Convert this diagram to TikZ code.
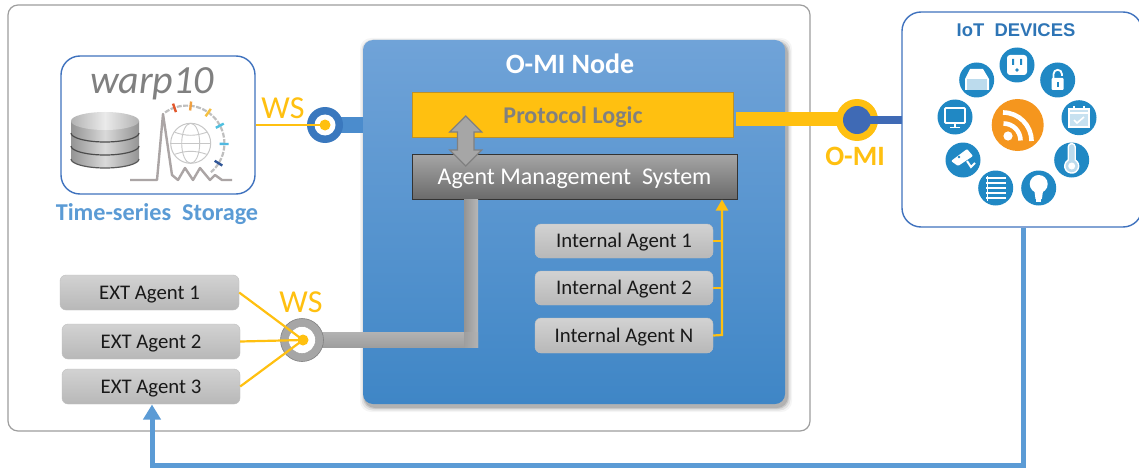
\documentclass[tikz,border=0pt]{standalone}
\usepackage{fontspec}
\setmainfont{Carlito}
\newfontfamily\iotfont{Liberation Sans}
\usetikzlibrary{arrows.meta}
\definecolor{ylw}{HTML}{FFC010}
\definecolor{iotblue}{HTML}{2088C4}
\definecolor{txtblue}{HTML}{5B9BD5}
\definecolor{boxblue}{HTML}{3F72BE}
\definecolor{pipegray}{HTML}{A6A6A6}
\definecolor{chipB}{HTML}{B8B8B8}
\definecolor{chipT}{HTML}{D2D2D2}
\definecolor{nodeT}{HTML}{70A3D8}
\definecolor{nodeB}{HTML}{3F86C6}
\definecolor{omiblue}{HTML}{3F6AB5}
\definecolor{plborder}{HTML}{BE9128}
\definecolor{spike}{HTML}{ABA5A5}
\definecolor{stub}{HTML}{4B8CCD}
\definecolor{ringblue}{HTML}{3A78BE}
\definecolor{iottxt}{HTML}{2E75B6}
\definecolor{rssor}{HTML}{F5961E}
\tikzset{
  x=1pt,y=-1pt,
  chip/.style={draw=black!25,rounded corners=6pt,top color=chipT,bottom color=chipB,inner sep=0pt,font=\fontsize{20.8}{22}\selectfont,text=black!90,text height=13pt,text depth=0pt},
  panel/.style={draw=boxblue,line width=1.4pt,fill=white,rounded corners=19pt,inner sep=0pt},
  ylink/.style={draw=ylw,line width=2.2pt},
  icon/.style={circle,fill=iotblue,minimum size=35pt,inner sep=0pt}
}
\begin{document}
\begin{tikzpicture}
\useasboundingbox (0,0) rectangle (1139,468);
\fill[white] (0,0) rectangle (1139,468);
% outer frame
\node[draw=black!38,line width=1.2pt,rounded corners=10pt,minimum width=802pt,minimum height=426pt,inner sep=0pt] (outer) at (409,218) {};
% O-MI node shadow + body
\foreach \d/\o in {5/.04,3.5/.07,2/.1,1/.12}{
  \fill[black,opacity=\o,rounded corners=11pt] (363-\d+2,40-\d+3) rectangle (785+\d+2,404+\d+3);
}
\node[rounded corners=10pt,top color=nodeT,bottom color=nodeB,minimum width=422pt,minimum height=364pt,inner sep=0pt] (omi) at (574,222) {};
\node[font=\bfseries\fontsize{28}{30}\selectfont,text=white] (omit) at (570,64) {O-MI Node};
% right link
\fill[ylw] (736,112) rectangle (842,126);
\coordinate (iotL) at (902,120);
\node[circle,fill=ylw,minimum size=42pt,inner sep=0pt] (omiO) at (857,120) {};
\node[circle,fill=omiblue,minimum size=28pt,inner sep=0pt] (omiI) at (857,120) {};
\draw[draw=omiblue,line width=7pt] (omiI.center) -- (iotL);
\node[font=\bfseries\fontsize{28}{30}\selectfont,text=ylw] (omil) at (855,156) {O-MI};
% protocol logic
\node[draw=plborder,line width=1pt,fill=ylw,minimum width=321pt,minimum height=44pt,inner sep=0pt] (pl) at (572.5,115) {};
\node[font=\bfseries\fontsize{24}{26}\selectfont,text=black!50] (plt) at (573,117) {Protocol Logic};
% AMS
\node[draw=black!80,line width=1pt,top color=black!35,bottom color=black!58,minimum width=325pt,minimum height=45pt,inner sep=0pt,font=\fontsize{24}{26}\selectfont,text=white,text height=15pt,text depth=0pt] (ams) at (574.5,176.5) {Agent Management\ \ System};
% double arrow
\draw[draw=black!50,line width=1.2pt,fill=pipegray]
 (465.7,116) -- (481.7,132) -- (474,132) -- (474,150) -- (481.7,150) -- (465.7,166)
 -- (449.7,150) -- (457.4,150) -- (457.4,132) -- (449.7,132) -- cycle;
% gray pipe
\shade[left color=black!42,right color=black!28] (464,199) rectangle (478,347);
\shade[top color=black!30,bottom color=black!38] (322,332) rectangle (464,347);
\shade[left color=black!38,right color=black!30] (464,332) rectangle (478,347);
% internal agents
\node[chip,minimum width=178pt,minimum height=34pt] (i1) at (624,241) {Internal Agent 1};
\node[chip,minimum width=178pt,minimum height=34pt] (i2) at (624,288) {Internal Agent 2};
\node[chip,minimum width=178pt,minimum height=35pt] (iN) at (624,335.5) {Internal Agent N};
\coordinate (amsIn) at (722,199.5);
\coordinate (iJ) at (722,335);
\draw[ylink,-{Triangle[length=11pt,width=12pt]}] (iN.east) -- (iJ) -- (amsIn);
\draw[ylink] (i1.east) -- (722,241);
\draw[ylink] (i2.east) -- (722,288);
% storage
\node[panel,minimum width=194pt,minimum height=138pt] (store) at (158,125) {};
\node[font=\itshape\fontsize{40}{42}\selectfont,text=black!50] (warp) at (152,84) {warp10};
\node[font=\bfseries\fontsize{24.2}{26}\selectfont,text=txtblue] (tss) at (157,214) {Time-series\ \ Storage};
% cylinder
\shade[left color=black!42,right color=black!42,middle color=black!15] (71,121) -- (71,159) arc[start angle=180,end angle=360,x radius=34pt,y radius=9pt] -- (139,121) -- cycle;
\shade[left color=black!30,right color=black!30,middle color=black!8] (105,121) ellipse[x radius=34pt,y radius=9pt];
\draw[black!70,line width=1.2pt] (71,133) arc[start angle=180,end angle=360,x radius=34pt,y radius=9pt];
\draw[black!70,line width=1.2pt] (71,146) arc[start angle=180,end angle=360,x radius=34pt,y radius=9pt];
\draw[black!65,line width=1.2pt] (71,159) arc[start angle=180,end angle=360,x radius=34pt,y radius=9pt];
% spike
\begin{scope}[shift={(186.7,143.3)}]
  \draw[black!25,line width=2.2pt,dash pattern=on 5pt off 1.5pt] (125:37.7pt) arc[start angle=125,end angle=-50,radius=37.7pt];
  \foreach \a/\c in {109/E2572B,84/F0A040,55/F5C040,28/4FC0E0,-1/4FB8E0,-32/2F5597}{
    \definecolor{tick}{HTML}{\c}
    \draw[tick,line width=2.4pt] (\a:33pt) -- (\a:42pt);
  }
  \draw[black!22,line width=1pt] (4,0) circle[radius=20pt];
  \draw[black!22,line width=.9pt] (4,0) ellipse[x radius=9pt,y radius=20pt];
  \draw[black!22,line width=.9pt] (-16,0) -- (24,0);
  \draw[black!22,line width=.9pt] (-12,-11) .. controls (0,-7) and (8,-7) .. (20,-11);
  \draw[black!22,line width=.9pt] (-12,11) .. controls (0,7) and (8,7) .. (20,11);
\end{scope}
\draw[spike,line width=2.4pt,line join=round]
 (130,180) -- (157,180) -- (163,114) -- (172,175) -- (178,180) -- (185,168) -- (193,180) -- (200,168) -- (210,180) -- (215,175) -- (222,180) -- (232,180);
% top WS connector
\fill[stub] (340,117) rectangle (363,133);
\coordinate (wsa) at (325,125);
\node[circle,draw=none,fill=ringblue,minimum size=36pt,inner sep=0pt] (wso) at (wsa) {};
\node[circle,fill=white,minimum size=21pt,inner sep=0pt] (wsm) at (wsa) {};
\draw[ylink] (store.east) -- (wsa);
\node[circle,fill=ylw,minimum size=11pt,inner sep=0pt] (wsd) at (wsa) {};
\node[font=\fontsize{32}{34}\selectfont,text=ylw] (wst) at (283,108) {WS};
% ext agents
\node[chip,minimum width=179pt,minimum height=35pt] (e1) at (149.5,292.5) {EXT Agent 1};
\node[chip,minimum width=178pt,minimum height=35pt] (e2) at (151,341.5) {EXT Agent 2};
\node[chip,minimum width=178pt,minimum height=35pt] (e3) at (151,386.5) {EXT Agent 3};
\node[circle,draw=black!50,line width=.6pt,fill=pipegray,minimum size=43pt,inner sep=0pt] (wbo) at (302,340) {};
\node[circle,fill=white,draw=black!40,line width=.4pt,minimum size=27pt,inner sep=0pt] (wbm) at (302,340) {};
\coordinate (wbc) at (303,340);
\draw[ylink] (e1.east) -- (wbc);
\draw[ylink] (e2.east) -- (wbc);
\draw[ylink] (e3.east) -- (wbc);
\node[circle,fill=ylw,minimum size=11pt,inner sep=0pt] (wbd) at (wbc) {};
\node[font=\fontsize{32}{34}\selectfont,text=ylw] (wbt) at (301,302) {WS};
% IoT
\node[panel,minimum width=240pt,minimum height=215pt] (iot) at (1022,119.5) {};
\node[font=\iotfont\bfseries\fontsize{18.4}{20}\selectfont,text=iottxt] (iott) at (1016,30) {IoT\ \ DEVICES};
\node[circle,fill=rssor,minimum size=52pt,inner sep=0pt] (rss) at (1017.7,125) {};
\begin{scope}[shift={(1008,136)}]
  \fill[white] (0,0) circle[radius=4.6pt];
  \draw[white,line width=4.6pt] (-4.5,-12.5) arc[start angle=90,end angle=0,radius=17pt];
  \draw[white,line width=4.6pt] (-5,-23.5) arc[start angle=90,end angle=0,radius=28.5pt];
\end{scope}
% icons
\node[icon] (socket) at (1017,65) {};
\fill[white,rounded corners=3pt] (1007,55) rectangle (1027,75);
\fill[iotblue] (1012,59) rectangle (1014,65) (1020,59) rectangle (1022,65);
\fill[iotblue] (1017,70) circle[radius=1.8pt];
\node[icon] (lock) at (1057.7,80) {};
\draw[white,line width=1.8pt] (1053.5,79) -- (1053.5,74) arc[start angle=180,end angle=0,radius=4.2pt] -- (1061.9,76);
\fill[white,rounded corners=1pt] (1051.5,78) rectangle (1063.5,90);
\fill[iotblue] (1056.7,82) rectangle (1058.7,87);
\node[icon] (cal) at (1079,117.7) {};
\draw[white,line width=1.4pt,fill=white!75!iotblue] (1069,109) rectangle (1089,127);
\draw[white,line width=1.6pt] (1069,113) -- (1089,113) (1074,106) -- (1074,110) (1084,106) -- (1084,110);
\draw[white,line width=1.6pt] (1074,120) -- (1077,123) -- (1084,117);
\node[icon] (therm) at (1071.7,160) {};
\draw[white,line width=1.4pt,fill=white!70!iotblue] (1068.2,147) arc[start angle=180,end angle=0,radius=3.5pt] -- (1075.2,160) arc[start angle=60,end angle=-240,radius=7pt] -- cycle;
\fill[white] (1071.7,166) circle[radius=3.5pt];
\node[icon] (bulb) at (1038.7,188) {};
\fill[white] (1038.7,184) circle[radius=9pt];
\fill[white] (1034,188) -- (1043.4,188) -- (1041.9,199) -- (1035.5,199) -- cycle;
\fill[white] (1036,199) rectangle (1041.4,202);
\node[icon] (blinds) at (995.7,188) {};
\foreach \yy in {178,183,188,193,198}{\draw[white,line width=2.6pt] (986,\yy) -- (1006,\yy);}
\draw[white,line width=1pt] (987,176) -- (987,201);
\node[icon] (cam) at (963,160) {};
\fill[white,rounded corners=1pt] (951,161) -- (967,149) -- (973,156) -- (958,166) -- cycle;
\fill[iotblue] (959,157) circle[radius=1.4pt];
\draw[white,line width=2pt] (967,161) -- (971,167) -- (975,163);
\node[icon] (mon) at (955,117) {};
\draw[white,line width=1.8pt,rounded corners=1pt] (945,108) rectangle (965,123);
\draw[white,line width=1.6pt] (955,124) -- (955,127) (950,127.5) -- (960,127.5);
\node[icon] (gar) at (976.7,80) {};
\fill[white] (965,79) -- (970,69) -- (983,69) -- (989,79) -- (989,90) -- (965,90) -- cycle;
\fill[white!70!iotblue] (967,79) rectangle (987,90);
% bottom feedback arrow
\coordinate (bj1) at (1023,465);
\coordinate (bj2) at (152,465);
\coordinate (e3b) at (152,404.5);
\draw[draw=txtblue,line width=5pt,-{Triangle[length=15pt,width=17pt]}] (iot.south -| bj1) -- (bj1) -- (bj2) -- (e3b);
\end{tikzpicture}
\end{document}
